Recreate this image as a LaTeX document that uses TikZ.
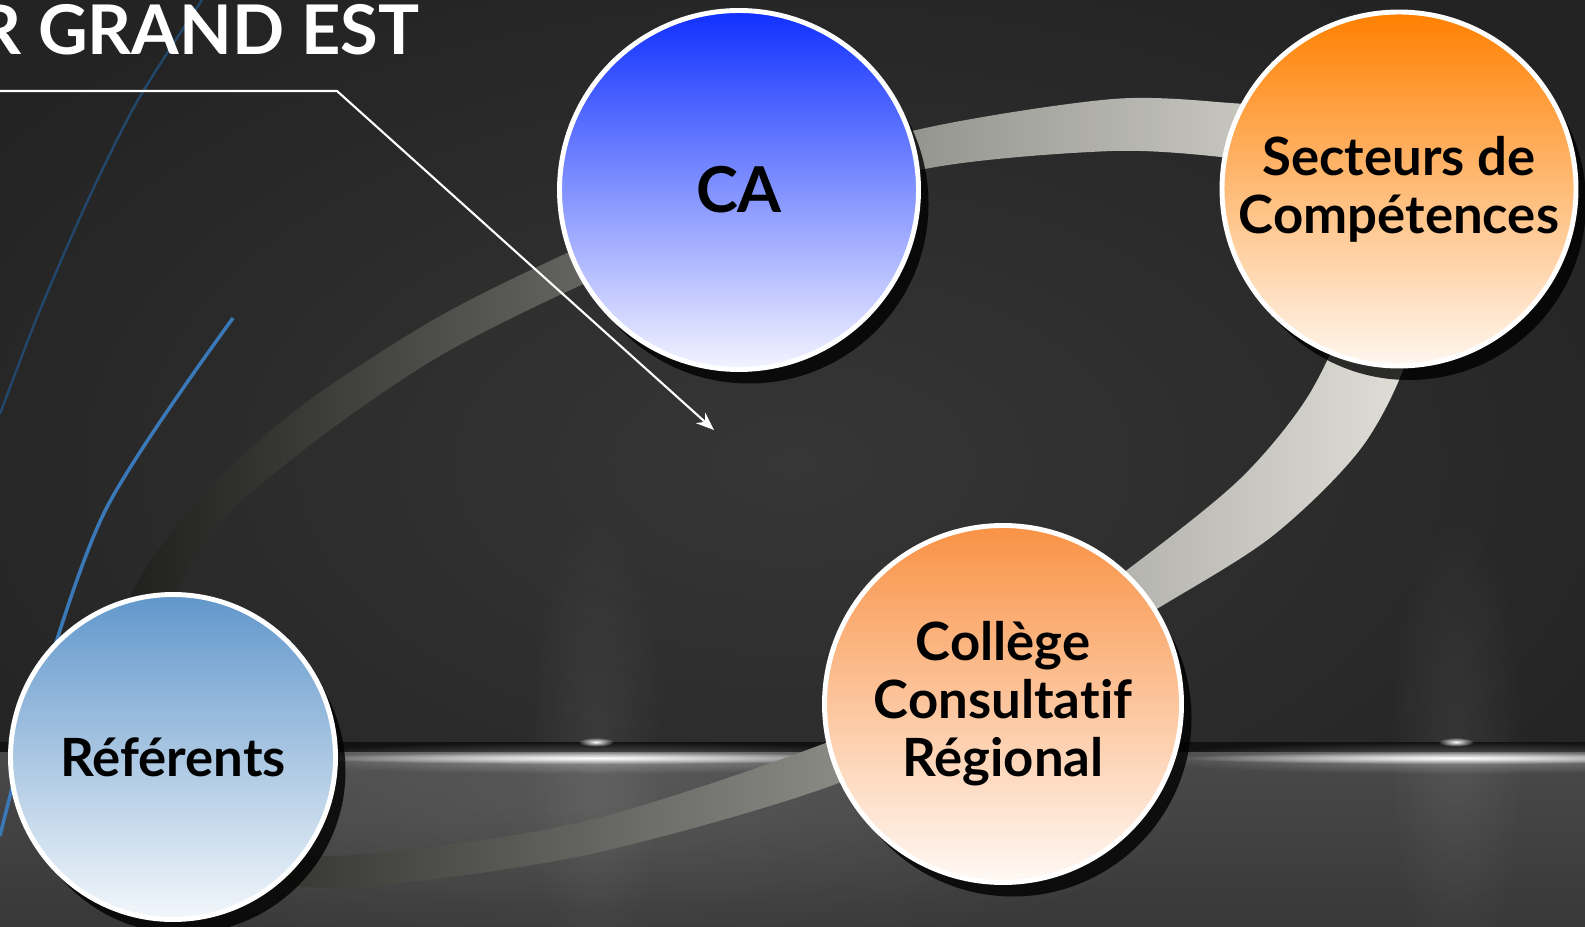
\documentclass[tikz,border=0pt]{standalone}
\usepackage{fontspec}
\setmainfont{Lato}[Ligatures={NoCommon,NoRare}]
\usetikzlibrary{shadows,fadings,arrows.meta}

\definecolor{fondoC}{HTML}{363636}
\definecolor{fondoB}{HTML}{232323}
\definecolor{sueloA}{HTML}{4A4A4A}
\definecolor{sueloB}{HTML}{383838}
\definecolor{linea}{HTML}{121212}
\definecolor{bandaA}{HTML}{1A1A18}
\definecolor{bandaB}{HTML}{E2E1DA}
\definecolor{azulA}{HTML}{3B78B8}
\definecolor{azulB}{HTML}{23466B}
\definecolor{caA}{HTML}{1030FF}
\definecolor{caB}{HTML}{F4F4FF}
\definecolor{secA}{HTML}{FF8000}
\definecolor{secB}{HTML}{FFF7F0}
\definecolor{colA}{HTML}{F99245}
\definecolor{colB}{HTML}{FFF9F5}
\definecolor{refA}{HTML}{6197CB}
\definecolor{refB}{HTML}{F3F7FB}

\tikzfading[name=brillo, inner color=transparent!0, outer color=transparent!100]

\tikzset{
  burbuja/.style={circle, draw=white, line width=1.4pt, minimum size=#1, inner sep=0pt,
    align=center, font=\bfseries\fontsize{15}{16.5}\selectfont,
    drop shadow={shadow xshift=0.1cm, shadow yshift=-0.14cm, opacity=0.8, fill=black}},
  flecha/.style={white, line width=0.6pt, -{Stealth[length=1.8mm, width=1.4mm]}}
}

\begin{document}
\begin{tikzpicture}
    \useasboundingbox (0,0) rectangle (15.85,9.26);
    \clip (0,0) rectangle (15.85,9.26);

    % Dibuja el fondo
    \shade[inner color=fondoC, outer color=fondoB] (-2,-1) rectangle (17.85,10.26);
    \begin{scope}
        \clip (0,0) rectangle (15.85,1.78);
        \shade[top color=sueloA, bottom color=sueloB] (0,0) rectangle (15.85,1.78);
        \fill[white, opacity=0.10, path fading=brillo] (6,1.2) ellipse (6 and 1.6);
    \end{scope}
    \fill[white, opacity=0.07, path fading=brillo] (5.96,1.8) ellipse (0.7 and 2.4);
    \fill[white, opacity=0.07, path fading=brillo] (14.56,1.8) ellipse (0.7 and 2.4);
    \fill[linea] (0,1.74) rectangle (15.85,1.84);
    \fill[white, opacity=0.35, path fading=brillo] (5.96,1.68) ellipse (3.5 and 0.16);
    \fill[white, opacity=0.35, path fading=brillo] (14.56,1.68) ellipse (3.2 and 0.16);
    \fill[white, path fading=brillo] (5.96,1.68) ellipse (3 and 0.06);
    \fill[white, path fading=brillo] (14.56,1.68) ellipse (2.8 and 0.06);
    \fill[white, path fading=brillo] (5.96,1.84) ellipse (0.18 and 0.045);
    \fill[white, path fading=brillo] (14.56,1.84) ellipse (0.18 and 0.045);

    % Dibuja las lineas azules
    \draw[azulB, line width=0.7pt] plot[smooth] coordinates {(2.02,9.26) (1.38,8.26) (0.88,7.26) (0.38,6.11) (0,5.12)};
    \draw[azulA, line width=1pt] plot[smooth] coordinates {(2.33,6.08) (1.05,4.15) (0.30,2.00) (0,0.9)};

    % Dibuja la banda gris
    \begin{scope}
        \clip plot[smooth cycle] coordinates {(3.54,0.39) (5.86,0.71) (8.36,1.42) (10.00,2.26) (11.60,3.19) (12.75,3.92) (13.67,4.86) (14.15,6.00) (14.00,7.46) (13.30,8.11) (12.30,8.23) (11.13,8.27) (9.30,7.99) (7.40,7.48) (5.67,6.73) (4.33,6.06) (3.00,5.19) (2.00,4.29) (1.30,3.29) (1.05,2.26) (1.50,1.06) (2.30,0.51)}
            plot[smooth cycle] coordinates {(2.60,0.81) (1.90,1.26) (1.45,2.26) (2.00,3.79) (3.00,4.73) (4.33,5.66) (5.77,6.39) (7.40,7.06) (9.30,7.58) (11.13,7.75) (12.30,7.68) (12.90,7.56) (13.35,7.11) (13.50,6.30) (13.10,5.33) (12.40,4.47) (11.27,3.56) (10.00,2.66) (8.36,1.87) (5.86,1.05) (3.54,0.71)};
        \shade[left color=bandaA, right color=bandaB] (0.9,0) rectangle (14.3,9.26);
    \end{scope}

    % Dibuja los circulos
    \node[burbuja=3.59cm, top color=caA, bottom color=caB, font=\bfseries\fontsize{18}{20}\selectfont] (ca) at (7.39,7.36) {CA};
    \node[burbuja=3.54cm, top color=secA, bottom color=secB] (secteurs) at (13.99,7.37) {Secteurs de\\Compétences};
    \node[burbuja=3.57cm, top color=colA, bottom color=colB] (college) at (10.03,2.22) {Collège\\Consultatif\\Régional};
    \node[burbuja=3.25cm, top color=refA, bottom color=refB] (referents) at (1.73,1.69) {Référents};

    % Dibuja el titulo y la flecha
    \node[anchor=base east, inner sep=0pt, text=white, font=\bfseries\fontsize{19.5}{22}\selectfont] (titulo) at (4.20,8.71) {R GRAND EST};
    \coordinate (inicio) at (0,8.35);
    \coordinate (codo) at (3.37,8.35);
    \coordinate (punta) at (7.14,4.96);
    \draw[flecha] (inicio) -- (codo) -- (punta);
\end{tikzpicture}
\end{document}
